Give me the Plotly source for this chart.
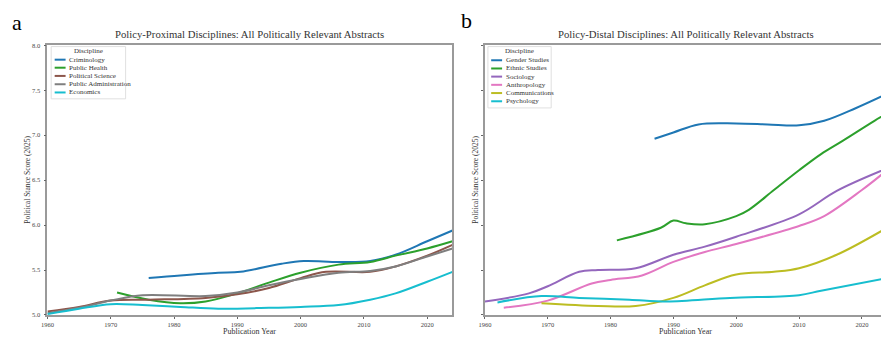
import plotly.graph_objects as go

# ---- Panel a: Policy-Proximal ----
crim_x = [1976, 1981, 1987, 1990.5, 1997, 2000.5, 2006, 2011, 2015, 2020, 2024]
crim_y = [5.41, 5.44, 5.47, 5.48, 5.57, 5.60, 5.59, 5.60, 5.67, 5.82, 5.94]
ph_x = [1971, 1976, 1981, 1985, 1990, 1995, 2000, 2006, 2011, 2015, 2020, 2024]
ph_y = [5.25, 5.17, 5.13, 5.15, 5.24, 5.36, 5.47, 5.56, 5.59, 5.66, 5.74, 5.82]
ps_x = [1960, 1965, 1970, 1976, 1985, 1990, 1995, 2000, 2004, 2011, 2015, 2020, 2024]
ps_y = [5.04, 5.09, 5.16, 5.17, 5.19, 5.23, 5.30, 5.41, 5.48, 5.48, 5.54, 5.66, 5.78]
pa_x = [1960, 1965, 1970, 1975, 1985, 1990, 1995, 2000, 2006, 2011, 2015, 2020, 2024]
pa_y = [5.02, 5.08, 5.16, 5.22, 5.21, 5.25, 5.33, 5.40, 5.47, 5.49, 5.54, 5.65, 5.74]
eco_x = [1960, 1965, 1970, 1975, 1981, 1987, 1995, 2000, 2006, 2011, 2015, 2020, 2024]
eco_y = [5.01, 5.07, 5.12, 5.11, 5.09, 5.07, 5.08, 5.09, 5.11, 5.17, 5.24, 5.37, 5.48]

# ---- Panel b: Policy-Distal ----
gs_x = [1987, 1990, 1994, 2000, 2005, 2010, 2014, 2019, 2024]
gs_y = [6.96, 7.03, 7.12, 7.13, 7.12, 7.11, 7.16, 7.30, 7.46]
es_x = [1981, 1988, 1990, 1992, 1995, 2000, 2002, 2006, 2010, 2013.5, 2017, 2022, 2024]
es_y = [5.83, 5.97, 6.05, 6.02, 6.01, 6.10, 6.17, 6.39, 6.61, 6.79, 6.94, 7.16, 7.24]
soc_x = [1960, 1967, 1970, 1975, 1978, 1984, 1990, 1995, 2000, 2010, 2016, 2024]
soc_y = [5.15, 5.24, 5.32, 5.48, 5.50, 5.52, 5.67, 5.76, 5.87, 6.12, 6.38, 6.63]
ant_x = [1963, 1970, 1977, 1980, 1985, 1990, 1995, 2000, 2010, 2014, 2020, 2024]
ant_y = [5.08, 5.16, 5.35, 5.39, 5.44, 5.59, 5.70, 5.79, 5.99, 6.10, 6.39, 6.61]
com_x = [1969, 1978, 1984, 1990, 1995, 2000, 2006, 2010, 2016, 2024]
com_y = [5.13, 5.10, 5.10, 5.19, 5.33, 5.45, 5.48, 5.52, 5.67, 5.97]
psy_x = [1962, 1969, 1975, 1983, 1989, 1999, 2010, 2013.5, 2024]
psy_y = [5.14, 5.21, 5.19, 5.17, 5.15, 5.19, 5.22, 5.27, 5.41]

year_ticks = [1960, 1970, 1980, 1990, 2000, 2010, 2020]
score_ticks = [5.0, 5.5, 6.0, 6.5, 7.0, 7.5, 8.0]

left = [
    ("Criminology", crim_x, crim_y, "#1f77b4"),
    ("Public Health", ph_x, ph_y, "#2ca02c"),
    ("Political Science", ps_x, ps_y, "#8c564b"),
    ("Public Administration", pa_x, pa_y, "#7f7f7f"),
    ("Economics", eco_x, eco_y, "#17becf"),
]
right = [
    ("Gender Studies", gs_x, gs_y, "#1f77b4"),
    ("Ethnic Studies", es_x, es_y, "#2ca02c"),
    ("Sociology", soc_x, soc_y, "#9467bd"),
    ("Anthropology", ant_x, ant_y, "#e377c2"),
    ("Communications", com_x, com_y, "#bcbd22"),
    ("Psychology", psy_x, psy_y, "#17becf"),
]

FONT = "Liberation Serif"
# the page body adds an 8px offset; work in screen pixels and convert
OFF = 8
FW, FH = 889 - OFF, 340 - OFF


def fx(s):
    return (s - OFF) / FW


def fy(s):
    return 1 - (s - OFF) / FH


fig = go.Figure()
for name, xs, ys, c in left:
    fig.add_trace(go.Scatter(x=xs, y=ys, name=name, mode="lines", showlegend=False,
                             line=dict(color=c, width=2, shape="spline", smoothing=1.0),
                             xaxis="x", yaxis="y"))
for name, xs, ys, c in right:
    fig.add_trace(go.Scatter(x=xs, y=ys, name=name, mode="lines", showlegend=False,
                             line=dict(color=c, width=2, shape="spline", smoothing=1.0),
                             xaxis="x2", yaxis="y2"))

L0, L1 = 41.7, 450.0
R0, R1 = 482.7, 888.0
TOP, BOT = 42.0, 317.5

ax_common = dict(showgrid=False, zeroline=False, showline=True, linecolor="#9a9a9a",
                 linewidth=1.8, mirror=True, ticks="outside", ticklen=2, tickwidth=0.8,
                 tickcolor="#666", tickfont=dict(family=FONT, size=6.5, color="#444"))
xcommon = dict(ax_common, range=[1960, 2024], tickvals=year_ticks, ticklabelstandoff=0)
ycommon = dict(ax_common, range=[5.0, 8.0], tickvals=score_ticks, tickformat=".1f", ticklabelstandoff=2)

shapes = []
annotations = []


def legend(x0, x1, y0, y1, entries, title_y, ys, line_x0, line_x1, text_x):
    shapes.append(dict(type="rect", xref="paper", yref="paper", x0=fx(x0), x1=fx(x1), y0=fy(y1), y1=fy(y0),
                       line=dict(color="#d8d8d8", width=0.8), fillcolor="white", layer="above"))
    annotations.append(dict(text="Discipline", x=fx((x0 + x1) / 2), y=fy(title_y), xref="paper", yref="paper",
                            xanchor="center", yanchor="middle", showarrow=False,
                            font=dict(family=FONT, size=7, color="#333")))
    for (name, _, _, c), yy in zip(entries, ys):
        shapes.append(dict(type="line", xref="paper", yref="paper", x0=fx(line_x0), x1=fx(line_x1),
                           y0=fy(yy), y1=fy(yy), line=dict(color=c, width=2), layer="above"))
        annotations.append(dict(text=name, x=fx(text_x), y=fy(yy), xref="paper", yref="paper",
                                xanchor="left", yanchor="middle", showarrow=False,
                                font=dict(family=FONT, size=7, color="#333")))


legend(45.5, 120.5, 43.3, 96.7, left, 47.8, [56.7, 64.9, 73.3, 81.8, 90.2], 49, 60, 61.5)
legend(485.7, 549.5, 43.3, 106.0, right, 47.8, [57.3, 65.7, 74.0, 82.4, 90.8, 99.2], 489, 500, 501.5)

annotations += [
    dict(text="a", x=fx(4), y=fy(18.5), xref="paper", yref="paper", xanchor="left", yanchor="middle",
         showarrow=False, font=dict(family=FONT, size=22, color="black")),
    dict(text="b", x=fx(457), y=fy(16.5), xref="paper", yref="paper", xanchor="left", yanchor="middle",
         showarrow=False, font=dict(family=FONT, size=22, color="black")),
    dict(text="Policy-Proximal Disciplines: All Politically Relevant Abstracts", x=fx((L0 + L1) / 2),
         y=fy(30), xref="paper", yref="paper", xanchor="center", yanchor="middle",
         showarrow=False, font=dict(family=FONT, size=10.7, color="#333")),
    dict(text="Policy-Distal Disciplines: All Politically Relevant Abstracts", x=fx((R0 + R1) / 2),
         y=fy(30), xref="paper", yref="paper", xanchor="center", yanchor="middle",
         showarrow=False, font=dict(family=FONT, size=10.7, color="#333")),
    dict(text="Publication Year", x=fx((L0 + L1) / 2), y=fy(334), xref="paper", yref="paper",
         xanchor="center", yanchor="middle", showarrow=False, font=dict(family=FONT, size=8, color="#333")),
    dict(text="Publication Year", x=fx((R0 + R1) / 2), y=fy(334), xref="paper", yref="paper",
         xanchor="center", yanchor="middle", showarrow=False, font=dict(family=FONT, size=8, color="#333")),
    dict(text="Political Stance Score (2025)", x=fx(21.7), y=fy((TOP + BOT) / 2), xref="paper", yref="paper",
         xanchor="center", yanchor="middle", textangle=-90, showarrow=False,
         font=dict(family=FONT, size=7.5, color="#333")),
    dict(text="Political Stance Score (2025)", x=fx(473.3), y=fy((TOP + BOT) / 2), xref="paper", yref="paper",
         xanchor="center", yanchor="middle", textangle=-90, showarrow=False,
         font=dict(family=FONT, size=7.5, color="#333")),
]

fig.update_layout(
    width=FW, height=FH, margin=dict(l=0, r=0, t=0, b=0),
    paper_bgcolor="white", plot_bgcolor="white",
    font=dict(family=FONT, color="#333"),
    xaxis=dict(xcommon, domain=[fx(L0), fx(L1)], anchor="y"),
    yaxis=dict(ycommon, domain=[fy(BOT), fy(TOP)], anchor="x"),
    xaxis2=dict(xcommon, domain=[fx(R0), min(1.0, fx(R1))], anchor="y2"),
    yaxis2=dict(ycommon, domain=[fy(BOT), fy(TOP)], anchor="x2", showticklabels=False),
    showlegend=False,
    shapes=shapes,
    annotations=annotations,
)

fig.write_html("out.html")
